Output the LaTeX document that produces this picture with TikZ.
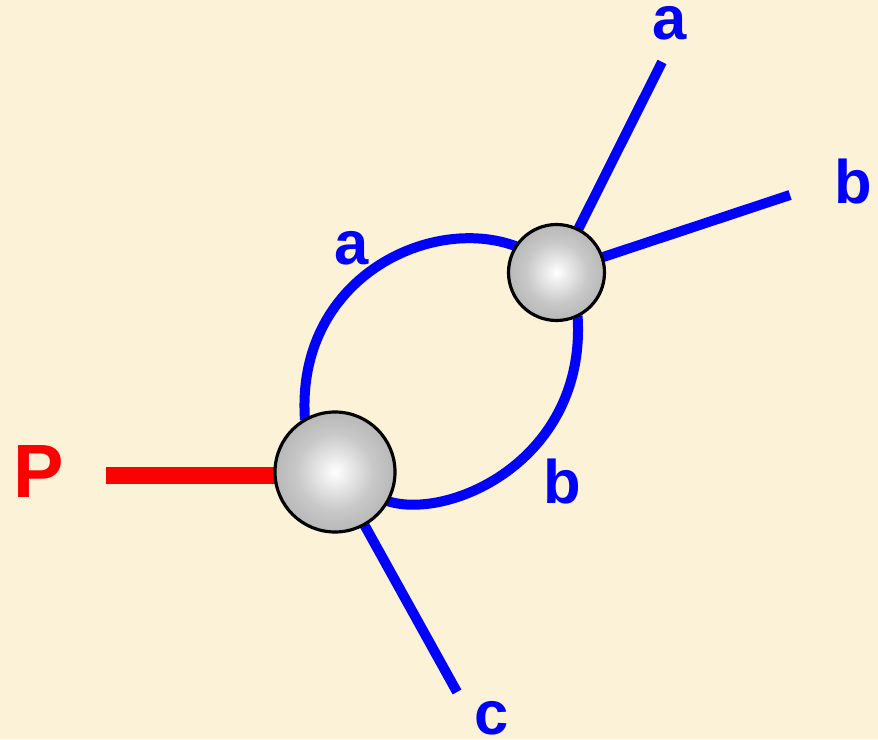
\documentclass[tikz,border=0pt]{standalone}
\usepackage{fontspec}
\setmainfont{Liberation Sans}
\usetikzlibrary{backgrounds}
\usepackage{xcolor}
\definecolor{paper}{RGB}{252,242,215}
\definecolor{lineblue}{RGB}{0,0,255}
\definecolor{linered}{RGB}{255,0,0}
\definecolor{ballmid}{RGB}{200,200,200}
\definecolor{ballgray}{RGB}{140,140,140}
\pgfdeclareradialshading{sphere}{\pgfpoint{0bp}{0bp}}{color(0bp)=(white); color(16bp)=(ballmid); color(50bp)=(ballgray); color(100bp)=(ballgray)}
\tikzset{
  ball/.style={circle,draw=black,line width=0.9pt,shade,shading=sphere,inner sep=0pt,outer sep=0pt},
  leg/.style={lineblue,line width=0.1cm},
  lbl/.style={font=\bfseries\fontsize{17.5}{20}\selectfont,text=lineblue,inner sep=0pt}
}

\begin{document}
\begin{tikzpicture}
    \useasboundingbox (0,0) rectangle (8.78,7.39);

    % Vertices
    \node[ball,minimum size=1.2cm] (big) at (3.35,2.67) {};
    \node[ball,minimum size=0.96cm] (small) at (5.565,4.665) {};

    % Free ends
    \coordinate (pEnd) at (1.06,2.635);
    \coordinate (cEnd) at (4.57,0.47);
    \coordinate (aEnd) at (6.62,6.77);
    \coordinate (bEnd) at (7.90,5.44);

    % Lines behind the balls
    \begin{pgfonlayer}{background}
      \fill[paper] (0,0) rectangle (8.78,7.39);
      \draw[linered,line width=0.175cm] (pEnd) -- (pEnd -| big.center);
      \draw[leg] (big) -- (cEnd);
      \draw[leg] (small) -- (aEnd);
      \draw[leg] (small) -- (bEnd);
      % Loop
      \draw[leg] (big.120) .. controls (2.95,4.6) and (4.3,5.25) .. (small.147);
      \draw[leg] (small.-64) .. controls (5.87,2.8) and (4.5,2.18) .. (big.-29);
    \end{pgfonlayer}

    % Labels
    \node[lbl,text=linered,font=\bfseries\fontsize{21.5}{24}\selectfont] (pLbl) at (0.39,2.67) {P};
    \node[lbl] (aTop) at (6.70,7.16) {a};
    \node[lbl] (bRight) at (8.53,5.57) {b};
    \node[lbl] (aLoop) at (3.52,4.91) {a};
    \node[lbl] (bLoop) at (5.62,2.57) {b};
    \node[lbl] (cLow) at (4.92,0.21) {c};
\end{tikzpicture}
\end{document}
